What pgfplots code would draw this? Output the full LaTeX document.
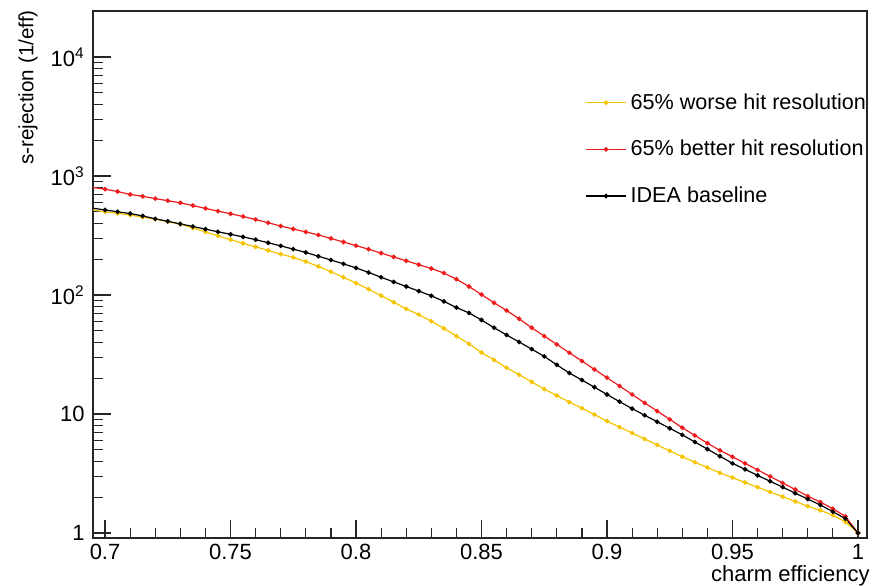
\documentclass[border=0pt]{standalone}
\usepackage{fontspec}
\setmainfont{Liberation Sans}
\usepackage{pgfplots}
\pgfplotsset{compat=1.18}
\usetikzlibrary{calc}
\definecolor{cyel}{HTML}{F5C400}
\definecolor{cred}{HTML}{EE1C1C}

\begin{document}
\begin{tikzpicture}
\begin{axis}[
  name=ax,
  scale only axis, width=387pt, height=263.5pt,
  xmin=0.6952, xmax=1.0036,
  ymode=log, ymin=0.908, ymax=24400,
  axis line style={line width=0.6pt, black!85},
  tick align=inside, xtick pos=bottom, ytick pos=left,
  xtick={0.7,0.75,0.8,0.85,0.9,0.95,1},
  xticklabels={0.7,0.75,0.8,0.85,0.9,0.95,1},
  minor x tick num=4,
  ytick={1,10,100,1000,10000},
  yticklabels={1,10,10\textsuperscript{2},10\textsuperscript{3},10\textsuperscript{4}},
  major tick length=9pt, minor tick length=5pt,
  tick style={line width=0.6pt, black!85},
  ticklabel style={font=\fontsize{11}{13}\selectfont},
  xticklabel style={inner sep=0pt, yshift=-3pt},
  yticklabel style={inner sep=0pt, xshift=-4pt},
  xlabel={charm efficiency},
  ylabel={s-rejection (1/eff)},
  xlabel style={font=\fontsize{11}{13}\selectfont, inner sep=0pt,
    at={($(rel axis cs:1,0)+(1.5pt,-24pt)$)}, anchor=south east},
  ylabel style={font=\fontsize{10.3}{12}\selectfont, inner sep=0pt,
    at={($(rel axis cs:0,1)+(-37.5pt,0.5pt)$)}, anchor=north east},
  legend style={at={(rel axis cs:0.6357,0.852)}, anchor=north west, draw=none, fill=none,
    inner sep=0pt, row sep=10pt, font=\fontsize{10.8}{13}\selectfont, cells={anchor=west}},
  legend image code/.code={\draw[mark repeat=2,mark phase=2,#1] plot coordinates {(0pt,0pt) (10pt,0pt) (20pt,0pt)};},
]

% 65% worse
\addplot[cyel, line width=0.6pt, mark=*, mark size=0.85pt] coordinates {
(0.695,519)(0.700,501)(0.705,486)(0.710,470)(0.715,452)(0.720,434)(0.725,414)(0.730,394)
(0.735,367)(0.740,339)(0.745,314)(0.750,292)(0.755,272)(0.760,254)(0.765,237)(0.770,221)
(0.775,207)(0.780,191)(0.785,174)(0.790,157)(0.795,141)(0.800,126)(0.805,112)(0.810,98.9)
(0.815,87.1)(0.820,76.5)(0.825,68.4)(0.830,60.3)(0.835,52.5)(0.840,45.2)(0.845,38.9)(0.850,32.9)
(0.855,28.5)(0.860,24.5)(0.865,21.4)(0.870,18.6)(0.875,16.2)(0.880,14.3)(0.885,12.6)(0.890,11.2)
(0.895,9.89)(0.900,8.71)(0.905,7.76)(0.910,6.92)(0.915,6.17)(0.920,5.50)(0.925,4.90)(0.930,4.37)
(0.935,3.94)(0.940,3.55)(0.945,3.20)(0.950,2.92)(0.955,2.66)(0.960,2.43)(0.965,2.21)(0.970,2.02)
(0.975,1.84)(0.980,1.68)(0.985,1.55)(0.990,1.41)(0.995,1.24)(1.000,1.0)};
\addlegendentry{65\% worse hit resolution}

% 65% better
\addplot[cred, line width=0.6pt, mark=*, mark size=0.85pt] coordinates {
(0.695,803)(0.700,776)(0.705,741)(0.710,701)(0.715,676)(0.720,646)(0.725,621)(0.730,596)
(0.735,565)(0.740,535)(0.745,507)(0.750,482)(0.755,457)(0.760,431)(0.765,405)(0.770,380)
(0.775,359)(0.780,339)(0.785,320)(0.790,299)(0.795,279)(0.800,260)(0.805,243)(0.810,225)
(0.815,209)(0.820,194)(0.825,180)(0.830,167)(0.835,153)(0.840,136)(0.845,118)(0.850,101)
(0.855,86.1)(0.860,74.1)(0.865,63.1)(0.870,53.1)(0.875,45.2)(0.880,38.5)(0.885,32.7)(0.890,27.9)
(0.895,23.7)(0.900,20.2)(0.905,17.2)(0.910,14.6)(0.915,12.4)(0.920,10.6)(0.925,9.02)(0.930,7.67)
(0.935,6.61)(0.940,5.69)(0.945,4.95)(0.950,4.37)(0.955,3.85)(0.960,3.39)(0.965,2.99)(0.970,2.63)
(0.975,2.32)(0.980,2.04)(0.985,1.82)(0.990,1.60)(0.995,1.38)(1.000,1.0)};
\addlegendentry{65\% better hit resolution}

% baseline
\addplot[black, line width=0.6pt, mark=*, mark size=0.85pt] coordinates {
(0.695,537)(0.700,519)(0.705,501)(0.710,484)(0.715,462)(0.720,437)(0.725,417)(0.730,396)
(0.735,377)(0.740,358)(0.745,340)(0.750,324)(0.755,308)(0.760,292)(0.765,275)(0.770,259)
(0.775,243)(0.780,228)(0.785,212)(0.790,197)(0.795,183)(0.800,169)(0.805,155)(0.810,141)
(0.815,129)(0.820,118)(0.825,108)(0.830,98.5)(0.835,88.5)(0.840,78.5)(0.845,70.8)(0.850,61.7)
(0.855,53.1)(0.860,46.2)(0.865,40.3)(0.870,35.1)(0.875,30.5)(0.880,25.9)(0.885,22.1)(0.890,19.3)
(0.895,16.8)(0.900,14.6)(0.905,12.7)(0.910,11.1)(0.915,9.77)(0.920,8.61)(0.925,7.59)(0.930,6.68)
(0.935,5.82)(0.940,5.07)(0.945,4.42)(0.950,3.85)(0.955,3.43)(0.960,3.05)(0.965,2.72)(0.970,2.43)
(0.975,2.16)(0.980,1.93)(0.985,1.72)(0.990,1.51)(0.995,1.32)(1.000,1.0)};
\addlegendentry{IDEA baseline}

\end{axis}
\pgfresetboundingbox
\path[use as bounding box] ([xshift=-46.5pt,yshift=-24pt]ax.south west) rectangle ([xshift=4.5pt,yshift=5.5pt]ax.north east);
\end{tikzpicture}
\end{document}
